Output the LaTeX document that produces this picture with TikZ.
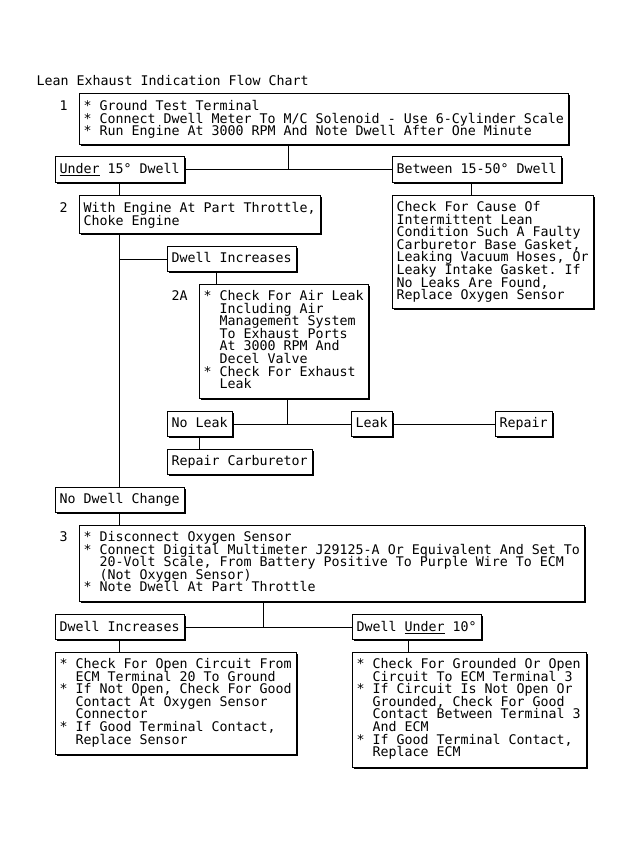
\documentclass[tikz,border=0pt]{standalone}
\usepackage{fontspec}
\newfontfamily\mono{DejaVu Sans Mono}
\usetikzlibrary{shadows}
\newcommand\bxfont{\mono\fontsize{13.3bp}{12.6bp}\selectfont\lineskiplimit=-50bp\relax\frenchspacing}
\newcommand\ii{\mbox{\phantom{xx}}}
\begin{document}
\begin{tikzpicture}[x=1bp,y=-1bp,
  every node/.append style={execute at begin node={\spaceskip=\fontdimen2\font\relax\xspaceskip=\spaceskip}},
  box/.style={draw, line width=1bp, fill=white, anchor=north west, inner xsep=4bp, inner ysep=0pt, outer sep=0pt, align=left, font=\bxfont,
    drop shadow={shadow xshift=1.2bp, shadow yshift=-1.2bp, opacity=1, fill=black}},
  lbl/.style={anchor=base west, inner sep=0pt, outer sep=0pt, font=\bxfont},
  wire/.style={line width=1bp}]
\fill[white] (0,0) rectangle (630,842);
\useasboundingbox (0,0) rectangle (630,842);
\begin{scope}[shift={(0.5,0.5)}]
\node[lbl] (title) at (36,85) {Lean Exhaust Indication Flow Chart};
\node[lbl] (l1) at (59,110) {1};
\node[lbl] (l2) at (59,212) {2};
\node[lbl] (l2a) at (171,300) {2A};
\node[lbl] (l3) at (59,541) {3};

\node[box, text width=481bp, text height=17bp, text depth=34bp] (s1) at (79,93)
 {* Ground Test Terminal\\{*} Connect Dwell Meter To M/C Solenoid - Use 6-Cylinder Scale\\{*} Run Engine At 3000 RPM And Note Dwell After One Minute};
\node[box, text width=121bp, text height=17bp, text depth=9bp] (under) at (55,156) {\underline{Under} 15° Dwell};
\node[box, text width=161bp, text height=17bp, text depth=9bp] (between) at (392,156) {Between 15-50° Dwell};
\node[box, text width=233bp, text height=17bp, text depth=21bp] (s2) at (79,195) {With Engine At Part Throttle,\\Choke Engine};
\node[box, text width=193bp, text height=16bp, text depth=97bp] (check) at (392,195)
 {Check For Cause Of\\Intermittent Lean\\Condition Such A Faulty\\Carburetor Base Gasket,\\Leaking Vacuum Hoses, Or\\Leaky Intake Gasket. If\\No Leaks Are Found,\\Replace Oxygen Sensor};
\node[box, text width=121bp, text height=16bp, text depth=9bp] (dinc1) at (167,246) {Dwell Increases};
\node[box, text width=161bp, text height=16bp, text depth=98bp] (s2a) at (199,284)
 {* Check For Air Leak\\\ii Including Air\\\ii Management System\\\ii To Exhaust Ports\\\ii At 3000 RPM And\\\ii Decel Valve\\{*} Check For Exhaust\\\ii Leak};
\node[box, text width=57bp, text height=16bp, text depth=9bp] (noleak) at (167,411) {No Leak};
\node[box, text width=33bp, text height=16bp, text depth=9bp] (leak) at (351,411) {Leak};
\node[box, text width=49bp, text height=16bp, text depth=9bp] (repair) at (495,411) {Repair};
\node[box, text width=137bp, text height=16bp, text depth=9bp] (repcarb) at (167,449) {Repair Carburetor};
\node[box, text width=121bp, text height=16bp, text depth=9bp] (nodwell) at (55,487) {No Dwell Change};
\node[box, text width=497bp, text height=16bp, text depth=60bp] (s3) at (79,525)
 {* Disconnect Oxygen Sensor\\{*} Connect Digital Multimeter J29125-A Or Equivalent And Set To\\\ii 20-Volt Scale, From Battery Positive To Purple Wire To ECM\\\ii (Not Oxygen Sensor)\\{*} Note Dwell At Part Throttle};
\node[box, text width=121bp, text height=17bp, text depth=8bp] (dinc2) at (55,614) {Dwell Increases};
\node[box, text width=121bp, text height=17bp, text depth=8bp] (dunder) at (352,614) {Dwell \underline{Under} 10°};
\node[box, text width=233bp, text height=16bp, text depth=86bp] (leftbot) at (55,652)
 {* Check For Open Circuit From\\\ii ECM Terminal 20 To Ground\\{*} If Not Open, Check For Good\\\ii Contact At Oxygen Sensor\\\ii Connector\\{*} If Good Terminal Contact,\\\ii Replace Sensor};
\node[box, text width=226bp, text height=16bp, text depth=99bp] (rightbot) at (352,652)
 {* Check For Grounded Or Open\\\ii Circuit To ECM Terminal 3\\{*} If Circuit Is Not Open Or\\\ii Grounded, Check For Good\\\ii Contact Between Terminal 3\\\ii And ECM\\{*} If Good Terminal Contact,\\\ii Replace ECM};

\coordinate (xa) at (288,0);
\coordinate (xb) at (119,0);
\coordinate (xc) at (471,0);
\coordinate (xd) at (216,0);
\coordinate (xe) at (287,0);
\coordinate (xf) at (199,0);
\coordinate (xg) at (263,0);
\coordinate (xh) at (408,0);

\draw[wire] (s1.south -| xa) -- (under.east -| xa);
\draw[wire] (under.east) -- (between.west);
\draw[wire] (under.south -| xb) -- (s2.north -| xb);
\draw[wire] (between.south -| xc) -- (check.north -| xc);
\draw[wire] (s2.south -| xb) -- (nodwell.north -| xb);
\draw[wire] (dinc1.west -| xb) -- (dinc1.west);
\draw[wire] (dinc1.south -| xd) -- (s2a.north -| xd);
\draw[wire] (s2a.south -| xe) -- (noleak.east -| xe);
\draw[wire] (noleak.east) -- (leak.west);
\draw[wire] (leak.east) -- (repair.west);
\draw[wire] (noleak.south -| xf) -- (repcarb.north -| xf);
\draw[wire] (nodwell.south -| xb) -- (s3.north -| xb);
\draw[wire] (s3.south -| xg) -- (dinc2.east -| xg);
\draw[wire] (dinc2.east) -- (dunder.west);
\draw[wire] (dinc2.south -| xb) -- (leftbot.north -| xb);
\draw[wire] (dunder.south -| xh) -- (rightbot.north -| xh);
\end{scope}
\end{tikzpicture}
\end{document}
